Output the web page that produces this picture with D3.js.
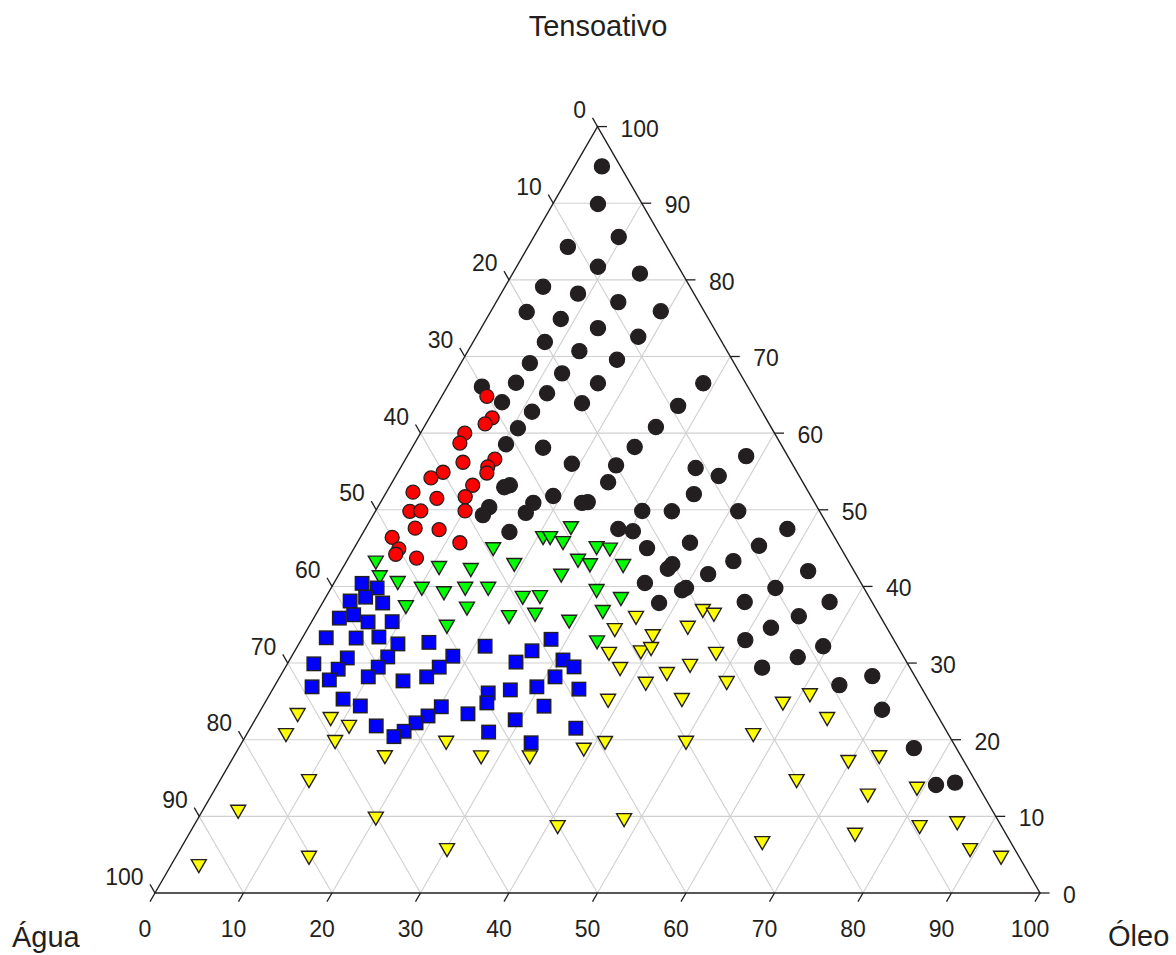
<!DOCTYPE html>
<html>
<head>
<meta charset="utf-8">
<title>Diagrama ternário</title>
<script src="https://cdn.jsdelivr.net/npm/d3@7"></script>
<style>
  html, body { margin: 0; padding: 0; background: #fff; }
  svg { display: block; }
  text { font-family: "Liberation Sans", Arial, Helvetica, sans-serif; fill: #231f20; }
</style>
</head>
<body>
<svg id="chart" width="1176" height="955"></svg>
<script>
// Composições [Água, Óleo, Tensoativo] em % de cada região do diagrama
const regiaoPreta = [
  [2.1,3.1,94.9],[5.0,5.1,89.9],[4.8,9.6,85.6],[11.2,4.5,84.3],[9.1,9.2,81.7],[4.8,14.4,80.9],
  [16.6,4.3,79.1],[13.1,8.7,78.2],[9.1,13.8,77.1],[20.1,4.1,75.8],[4.9,19.2,75.9],[16.7,8.4,74.9],
  [13.1,13.2,73.7],[9.1,18.3,72.5],[20.0,8.1,71.9],[16.7,12.6,70.7],[13.0,17.4,69.5],[23.1,7.8,69.2],
  [20.1,12.1,67.8],[25.9,7.5,66.5],[16.7,16.8,66.5],[4.8,28.7,66.5],[30.0,3.9,66.0],[23.1,11.7,65.2],
  [28.8,7.2,64.1],[26.0,11.2,62.8],[19.8,16.3,63.9],[9.1,27.3,63.5],[28.7,10.7,60.7],[13.0,26.2,60.8],
  [31.1,10.4,58.6],[27.1,14.8,58.1],[16.7,25.1,58.2],[4.7,38.3,57.0],[24.9,19.1,56.0],[20.0,24.2,55.8],
  [11.2,33.4,55.5],[9.1,36.5,54.4],[33.3,13.5,53.2],[34.1,13.0,53.0],[22.0,24.4,53.6],[29.1,19.1,51.8],
  [13.1,34.9,52.1],[37.1,12.6,50.4],[38.3,12.4,49.3],[31.8,17.3,50.9],[33.3,17.1,49.6],[25.6,23.4,51.0],
  [26.3,22.8,50.9],[36.4,16.5,47.1],[20.0,30.1,49.8],[16.7,33.5,49.8],[9.2,41.0,49.8],[23.9,28.6,47.5],
  [22.4,30.4,47.2],[4.8,47.7,47.5],[21.9,33.1,45.0],[16.7,37.6,45.7],[9.1,45.6,45.3],[13.0,43.7,43.3],
  [20.1,37.0,42.9],[20.9,36.8,42.3],[16.7,41.7,41.6],[5.2,52.8,42.0],[24.4,35.1,40.4],[20.1,40.1,39.8],
  [20.7,39.8,39.5],[10.0,50.2,39.8],[24.1,38.0,37.8],[14.4,47.7,38.0],[4.8,57.3,38.0],[9.2,54.7,36.1],
  [13.1,52.3,34.6],[16.8,50.2,33.0],[8.4,59.4,32.2],[12.0,57.3,30.8],[16.7,53.9,29.4],[4.8,66.9,28.3],
  [9.1,63.7,27.1],[5.9,70.2,23.9],[4.8,76.3,18.9],[4.7,81.2,14.1],[2.4,83.2,14.4]
];

const regiaoVermelha = [
  [30.1,5.1,64.8],[30.9,7.1,62.0],[32.1,6.7,61.2],[35.0,5.0,60.0],[36.2,5.1,58.7],[37.1,6.7,56.2],
  [33.3,10.1,56.6],[34.6,9.8,55.6],[35.1,10.1,54.8],[40.0,5.1,54.9],[41.7,4.1,54.1],[37.5,9.3,53.2],
  [39.1,9.2,51.7],[44.7,3.0,52.3],[42.4,6.1,51.5],[46.3,3.9,49.8],[45.0,5.1,49.8],[40.0,10.1,49.8],
  [46.8,5.6,47.6],[44.2,8.4,47.4],[42.7,11.6,45.7],[50.0,3.6,46.4],[50.0,5.1,44.9],[50.7,5.1,44.2],
  [48.6,7.7,43.7]
];

const regiaoVerde = [
  [53.5,3.4,43.1],[54.0,4.8,41.2],[52.3,7.2,40.4],[50.0,10.3,39.7],[46.7,10.9,42.4],[43.2,14.6,42.1],
  [47.8,13.1,39.1],[45.1,15.2,39.7],[42.5,17.8,39.7],[53.0,9.7,37.3],[46.2,16.7,37.1],[49.6,15.6,34.7],
  [39.4,15.8,44.9],[38.0,19.2,42.8],[33.0,20.7,46.3],[32.2,21.5,46.3],[29.2,23.2,47.6],[31.1,23.3,45.7],
  [27.6,27.4,45.0],[26.2,29.0,44.8],[30.5,26.1,43.3],[29.5,27.8,42.8],[25.8,31.6,42.7],[33.4,25.2,41.4],
  [39.2,22.3,38.5],[37.2,24.2,38.6],[30.4,30.2,39.4],[28.2,33.5,38.4],[42.0,22.0,36.0],[38.9,24.8,36.3],
  [31.1,32.3,36.7],[35.5,29.1,35.4],[33.7,33.6,32.7]
];

const regiaoAmarela = [
  [27.7,36.4,35.9],[19.7,43.5,36.8],[18.7,45.0,36.3],[30.9,34.8,34.3],[22.5,42.9,34.6],[27.0,39.5,33.5],
  [33.1,35.7,31.2],[29.4,39.2,31.4],[28.0,40.1,31.8],[21.0,47.8,31.2],[32.8,37.9,29.2],[27.9,43.6,28.6],
  [24.7,45.6,29.6],[30.9,41.8,27.3],[36.3,38.7,25.1],[27.9,47.0,25.2],[21.7,50.9,27.4],[16.7,58.6,24.7],
  [13.1,61.1,25.8],[12.7,64.6,22.7],[22.1,57.3,20.6],[30.2,50.2,19.6],[39.4,41.1,19.6],[42.2,39.1,18.7],
  [48.8,33.5,17.7],[54.3,28.0,17.7],[57.3,23.1,19.6],[65.1,17.1,17.7],[72.2,4.5,23.2],[74.9,4.5,20.6],
  [68.8,8.5,22.7],[67.3,11.1,21.7],[69.8,10.5,19.7],[75.3,10.1,14.6],[85.3,4.1,10.6],[70.2,20.1,9.7],
  [80.3,15.1,4.6],[93.3,3.2,3.5],[64.2,30.2,5.6],[50.2,41.2,8.6],[42.2,48.2,9.5],[13.1,69.8,17.1],
  [9.3,72.9,17.7],[20.2,65.2,14.6],[13.1,74.2,12.7],[7.1,79.3,13.6],[28.1,65.3,6.5],[17.1,75.3,7.6],
  [9.3,82.1,8.6],[4.8,86.1,9.1],[5.1,89.3,5.6],[2.1,93.3,4.6]
];

const regiaoAzul = [
  [56.4,3.2,40.4],[55.0,5.2,39.8],[56.9,4.5,38.6],[58.9,3.0,38.1],[55.3,6.8,37.8],[59.4,4.3,36.3],
  [61.3,2.9,35.9],[58.3,6.4,35.4],[55.5,9.1,35.4],[64.0,2.7,33.3],[60.7,6.1,33.3],[58.0,8.6,33.4],
  [56.3,11.2,32.5],[52.7,14.6,32.7],[46.6,21.2,32.2],[63.0,6.4,30.7],[58.3,10.9,30.8],[50.9,18.2,30.9],
  [67.1,3.0,29.9],[64.7,6.1,29.2],[60.1,10.5,29.5],[53.2,17.4,29.5],[66.4,5.8,27.8],[61.8,10.0,28.2],
  [55.2,16.6,28.2],[58.2,14.2,27.7],[68.8,4.3,26.9],[49.3,24.6,26.1],[50.1,25.1,24.8],[66.1,8.6,25.3],
  [64.6,11.0,24.4],[55.5,20.2,24.3],[53.0,23.7,23.4],[57.6,19.3,23.1],[59.4,18.4,22.2],[64.1,14.1,21.8],
  [61.3,17.6,21.1],[51.8,27.2,21.0],[62.8,16.8,20.4],[38.7,28.2,33.1],[41.6,26.8,31.6],[44.1,25.7,30.1],
  [38.7,30.9,30.4],[37.9,32.6,29.5],[40.7,31.1,28.2],[46.6,26.9,26.5],[43.4,29.7,26.9],[38.8,34.6,26.6],
  [43.9,31.8,24.4],[48.0,29.4,22.6],[41.7,36.8,21.5],[47.7,32.7,19.6]
];

const tickValues = [0, 10, 20, 30, 40, 50, 60, 70, 80, 90, 100];
const gridValues = [10, 20, 30, 40, 50, 60, 70, 80, 90];
const axisTitles = { top: "Tensoativo", left: "Água", right: "Óleo" };

// ---- geometry ----
const svg = d3.select("#chart");
const side = 885;
const x0 = 155, yBase = 893;
const triH = side * Math.sqrt(3) / 2;

// horizontal position from (Óleo + Tensoativo/2); vertical from Tensoativo
const xs = d3.scaleLinear().domain([0, 100]).range([x0, x0 + side]);
const ys = d3.scaleLinear().domain([0, 100]).range([yBase, yBase - triH]);

// project [água, óleo, tensoativo] to screen
function proj(a, o, t) {
  const s = a + o + t;
  const on = o / s * 100, tn = t / s * 100;
  return [xs(on + tn / 2), ys(tn)];
}

const ink = "#231f20";
const gridColor = "#d0d0d0";

// ---- grid ----
const gGrid = svg.append("g").attr("fill", "none").attr("stroke", gridColor).attr("stroke-width", 1.1);
const gridSegs = [];
gridValues.forEach(k => {
  gridSegs.push([proj(100 - k, 0, k), proj(0, 100 - k, k)]);   // Tensoativo constante
  gridSegs.push([proj(100 - k, k, 0), proj(0, k, 100 - k)]);   // Óleo constante
  gridSegs.push([proj(k, 100 - k, 0), proj(k, 0, 100 - k)]);   // Água constante
});
gGrid.selectAll("line").data(gridSegs).join("line")
  .attr("x1", d => d[0][0]).attr("y1", d => d[0][1])
  .attr("x2", d => d[1][0]).attr("y2", d => d[1][1]);

// ---- triangle frame ----
const A = proj(100, 0, 0), O = proj(0, 100, 0), T = proj(0, 0, 100);
svg.append("path")
  .attr("d", d3.line()([A, O, T]) + "Z")
  .attr("fill", "none").attr("stroke", ink).attr("stroke-width", 1.4)
  .attr("stroke-linejoin", "miter");

// ---- ticks and tick labels ----
const tickLen = 10;
const c30 = Math.cos(Math.PI / 3), s60 = Math.sin(Math.PI / 3);
const gTicks = svg.append("g").attr("stroke", ink).attr("stroke-width", 1.3);
const gLabels = svg.append("g").attr("font-size", 23);

// Tensoativo (lado direito)
tickValues.forEach(k => {
  const p = proj(0, 100 - k, k);
  gTicks.append("line").attr("x1", p[0]).attr("y1", p[1]).attr("x2", p[0] + tickLen * 0.95).attr("y2", p[1]);
  gLabels.append("text").attr("x", p[0] + 23).attr("y", p[1] + 10).attr("text-anchor", "start").text(k);
});
// Óleo (base)
tickValues.forEach(k => {
  const p = proj(100 - k, k, 0);
  gTicks.append("line").attr("x1", p[0]).attr("y1", p[1])
    .attr("x2", p[0] - tickLen * c30).attr("y2", p[1] + tickLen * s60);
  gLabels.append("text").attr("x", p[0] - 10).attr("y", p[1] + 43.5).attr("text-anchor", "middle").text(k);
});
// Água (lado esquerdo)
tickValues.forEach(k => {
  const p = proj(k, 0, 100 - k);
  gTicks.append("line").attr("x1", p[0]).attr("y1", p[1])
    .attr("x2", p[0] - tickLen * c30).attr("y2", p[1] - tickLen * s60);
  gLabels.append("text").attr("x", p[0] - 11.5).attr("y", p[1] - 8.5).attr("text-anchor", "end").text(k);
});

// ---- axis titles ----
const gTitles = svg.append("g").attr("font-size", 29);
gTitles.append("text").attr("x", 598).attr("y", 36).attr("text-anchor", "middle").text(axisTitles.top);
gTitles.append("text").attr("x", 12).attr("y", 947).attr("text-anchor", "start").text(axisTitles.left);
gTitles.append("text").attr("x", 1108).attr("y", 946).attr("text-anchor", "start").text(axisTitles.right);

// ---- markers ----
const gMarks = svg.append("g");
const triW = 15, triHt = 13;
const trianglePath = `M${-triW / 2},${-triHt / 2}L${triW / 2},${-triHt / 2}L0,${triHt / 2}Z`;

function circles(data, r, fill, stroke, sw) {
  gMarks.append("g").selectAll("circle").data(data).join("circle")
    .attr("cx", d => proj(...d)[0]).attr("cy", d => proj(...d)[1])
    .attr("r", r).attr("fill", fill).attr("stroke", stroke).attr("stroke-width", sw);
}
function triangles(data, fill) {
  gMarks.append("g").selectAll("path").data(data).join("path")
    .attr("transform", d => { const p = proj(...d); return `translate(${p[0]},${p[1]})`; })
    .attr("d", trianglePath).attr("fill", fill).attr("stroke", ink).attr("stroke-width", 1.4)
    .attr("stroke-linejoin", "miter");
}
function squares(data, size, fill) {
  gMarks.append("g").selectAll("rect").data(data).join("rect")
    .attr("x", d => proj(...d)[0] - size / 2).attr("y", d => proj(...d)[1] - size / 2)
    .attr("width", size).attr("height", size)
    .attr("fill", fill).attr("stroke", ink).attr("stroke-width", 1.4);
}

circles(regiaoPreta, 7.6, ink, ink, 1.2);
circles(regiaoVermelha, 7, "#ff0000", ink, 1.3);
triangles(regiaoVerde, "#00ff00");
triangles(regiaoAmarela, "#ffff00");
squares(regiaoAzul, 13.5, "#0000ff");
</script>
</body>
</html>
